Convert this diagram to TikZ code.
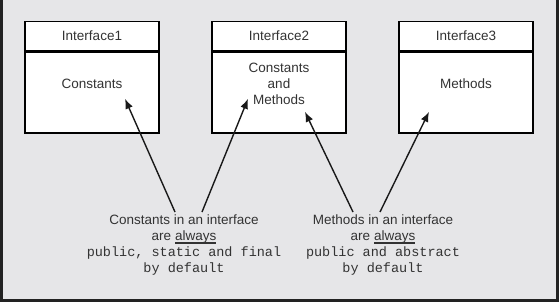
\documentclass[tikz,border=0pt]{standalone}
\usepackage{fontspec}
\setmainfont{Liberation Sans}
\setmonofont{Liberation Mono}
\usetikzlibrary{arrows.meta,positioning,calc}
\definecolor{ifBack}{HTML}{E6E6E8}
\definecolor{ifEdge}{HTML}{222222}
\definecolor{ifText}{HTML}{333333}
\newcommand\ulword[1]{\setbox0\hbox{#1}\rlap{\rule[-2.6pt]{\wd0}{1.4pt}}\box0}
\tikzset{
    head/.style={
        draw=black,line width=1.6pt,fill=white,
        minimum width=134,minimum height=29,inner sep=0pt
    },
    body/.style={
        draw=black,line width=1.6pt,fill=white,
        minimum width=134,minimum height=81,inner sep=0pt
    },
    txt/.style={
        align=center,text=ifText,inner sep=0pt,
        font=\fontsize{13.5}{16}\selectfont
    },
    note/.style={
        align=center,text=ifText,inner sep=3pt,anchor=north,
        font=\fontsize{13.5}{16}\selectfont
    },
    arrow/.style={
        -{Latex[length=10pt,width=8pt]},line width=1.4pt,draw=black!90
    }
}
\begin{document}
\begin{tikzpicture}[x=1pt,y=-1pt]
\useasboundingbox (0,0) rectangle (559,302);
\fill[ifBack] (0,0) rectangle (559,302);
\draw[ifEdge,line width=3pt] (1.5,0) -- (1.5,300.5) -- (557.5,300.5) -- (557.5,0);

% the three interfaces
\node[body] (b1) at (92,92.5) {};
\node[head,anchor=south] (h1) at (b1.north) {};
\node[body] (b2) at (279,92.5) {};
\node[head,anchor=south] (h2) at (b2.north) {};
\node[body] (b3) at (466,92.5) {};
\node[head,anchor=south] (h3) at (b3.north) {};

\node[txt] at (h1.center) {Interface1};
\node[txt] at (h2.center) {Interface2};
\node[txt] at (h3.center) {Interface3};

\node[txt] at ($(b1.center)+(0,-9)$) {Constants};
\node[txt] at ($(b2.center)+(0,-9)$) {Constants\\and\\Methods};
\node[txt] at ($(b3.center)+(0,-9)$) {Methods};

% notes
\node[note] (n1) at (184,212)
{Constants in an interface\\
are \ulword{always}\\
\texttt{public, static and final}\\
\texttt{by default}};
\node[note] (n2) at (383,212)
{Methods in an interface\\
are \ulword{always}\\
\texttt{public and abstract}\\
\texttt{by default}};

\coordinate (e1) at ($(b1.south)+(33,-35)$);
\coordinate (e2) at ($(b2.south)+(-31,-35)$);
\coordinate (e3) at ($(b2.south)+(26,-22)$);
\coordinate (e4) at ($(b3.south)+(-37,-22)$);

\draw[arrow] ($(n1.north)+(-9,0)$) -- (e1);
\draw[arrow] ($(n1.north)+(18,0)$) -- (e2);
\draw[arrow] ($(n2.north)+(-30,0)$) -- (e3);
\draw[arrow] ($(n2.north)+(-3,0)$) -- (e4);

\end{tikzpicture}
\end{document}
